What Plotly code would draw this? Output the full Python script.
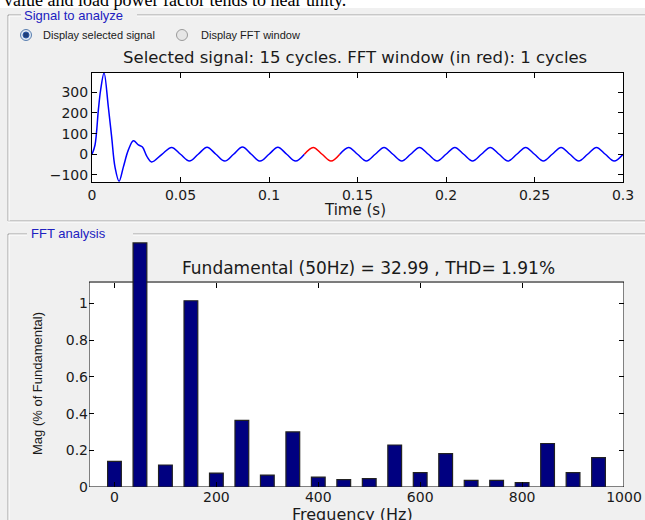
import plotly.graph_objects as go

W, H = 645, 520
def px(x): return x / W
def py(y): return 1 - y / H

# ---------------- data ----------------
# selected signal (time in s, value)
t_blue1 = [0, 0.0017, 0.0036, 0.0049, 0.0068, 0.0092, 0.0111, 0.013, 0.0153, 0.0177,
           0.0205, 0.0234, 0.0262, 0.0285, 0.031, 0.0337, 0.0395, 0.045, 0.050, 0.055,
           0.060, 0.065, 0.070, 0.075, 0.080, 0.085, 0.090, 0.095, 0.100, 0.105,
           0.110, 0.115, 0.120]
v_blue1 = [0, 45, 215, 312, 393, 231, 84, -62, -130, -62,
           20, 65, 45, 35, -10, -37, 0, 33, 0, -33,
           0, 34, 0, -33, 0, 35, 0, -33, 0, 34,
           0, -33, 0]
t_red = [0.120, 0.125, 0.130, 0.135, 0.140]
v_red = [0, 33, 0, -33, 0]
t_blue2 = [0.140, 0.145, 0.150, 0.155, 0.160, 0.165, 0.170, 0.175, 0.180, 0.185,
           0.190, 0.195, 0.200, 0.205, 0.210, 0.215, 0.220, 0.225, 0.230, 0.235,
           0.240, 0.245, 0.250, 0.255, 0.260, 0.265, 0.270, 0.275, 0.280, 0.285,
           0.290, 0.295, 0.300]
v_blue2 = [0, 33, 0, -33, 0, 33, 0, -33, 0, 33,
           0, -33, 0, 33, 0, -33, 0, 33, 0, -33,
           0, 33, 0, -33, 0, 33, 0, -33, 0, 33,
           0, -33, 0]

# FFT spectrum
freq = [0, 50, 100, 150, 200, 250, 300, 350, 400, 450,
        500, 550, 600, 650, 700, 750, 800, 850, 900, 950]
mag = [0.14, 1.33, 0.12, 1.015, 0.076, 0.363, 0.065, 0.30, 0.054, 0.040,
       0.046, 0.229, 0.078, 0.182, 0.036, 0.036, 0.024, 0.237, 0.078, 0.16]

time_ticks = [0, 0.05, 0.1, 0.15, 0.2, 0.25, 0.3]
time_ticktext = ['0', '0.05', '0.1', '0.15', '0.2', '0.25', '0.3']
sig_ticks = [-100, 0, 100, 200, 300]
freq_ticks = [0, 200, 400, 600, 800, 1000]
mag_ticks = [0, 0.2, 0.4, 0.6, 0.8, 1]
mag_ticktext = ['0', '0.2', '0.4', '0.6', '0.8', '1']

TICKFONT = dict(family='DejaVu Sans', size=14, color='#1a1a1a')
BG = '#f0f0f0'

fig = go.Figure()
fig.add_trace(go.Scatter(x=t_blue1, y=v_blue1, mode='lines', line=dict(color='#0000ff', width=1.5, shape='spline'),
                         xaxis='x', yaxis='y', showlegend=False, hoverinfo='skip'))
fig.add_trace(go.Scatter(x=t_red, y=v_red, mode='lines', line=dict(color='#ff0000', width=1.5, shape='spline'),
                         xaxis='x', yaxis='y', showlegend=False, hoverinfo='skip'))
fig.add_trace(go.Scatter(x=t_blue2, y=v_blue2, mode='lines', line=dict(color='#0000ff', width=1.5, shape='spline'),
                         xaxis='x', yaxis='y', showlegend=False, hoverinfo='skip'))
fig.add_trace(go.Bar(x=freq, y=mag, width=27, marker=dict(color='#000080', line=dict(color='#222222', width=1.2)),
                     xaxis='x2', yaxis='y2', showlegend=False, hoverinfo='skip'))
fig.add_trace(go.Scatter(x=[], y=[], xaxis='x3', yaxis='y2', showlegend=False, hoverinfo='skip'))

ax_common = dict(showgrid=False, zeroline=False, ticks='inside', ticklen=5, tickcolor='black',
                 tickfont=TICKFONT, fixedrange=True, automargin=False)

fig.update_layout(
    width=W, height=H, margin=dict(l=0, r=0, t=0, b=0, pad=0, autoexpand=False),
    paper_bgcolor=BG, plot_bgcolor='white',
    xaxis=dict(domain=[px(92), px(623)], range=[0, 0.3], tickvals=time_ticks, ticktext=time_ticktext,
               showline=True, linecolor='black', linewidth=1, mirror='ticks', anchor='y', **ax_common),
    yaxis=dict(domain=[py(182), py(73)], range=[-134, 393], tickvals=sig_ticks,
               showline=True, linecolor='black', linewidth=1, mirror='ticks', anchor='x', **ax_common),
    xaxis2=dict(domain=[px(89), px(624)], range=[-50, 1000], tickvals=freq_ticks,
                showline=False, anchor='y2', **ax_common),
    yaxis2=dict(domain=[py(487), py(240)], range=[0, 1.346], tickvals=mag_ticks, ticktext=mag_ticktext,
                showline=False, mirror='ticks', anchor='x2', **ax_common),
    xaxis3=dict(overlaying='x2', anchor='free', position=py(282), side='top', range=[-50, 1000],
                tickvals=freq_ticks, showticklabels=False, showline=False, **ax_common),
)

shapes = []
# white document strip at the very top
shapes.append(dict(type='rect', xref='paper', yref='paper', x0=0, x1=1, y0=py(8), y1=1,
                   fillcolor='white', line=dict(width=0), layer='below'))
# bottom axes: gray cover above the axes box, and the box itself
shapes.append(dict(type='rect', xref='x2', yref='y2', x0=-50, x1=1000, y0=1.117, y1=1.346,
                   fillcolor=BG, line=dict(width=0), layer='below'))
shapes.append(dict(type='rect', xref='x2', yref='y2', x0=-50, x1=1000, y0=0, y1=1.117,
                   fillcolor='rgba(0,0,0,0)', line=dict(color='black', width=1), layer='below'))

# panel frames (etched lines)
def hline(x0, x1, y, color):
    shapes.append(dict(type='line', xref='paper', yref='paper', x0=px(x0), x1=px(x1), y0=py(y), y1=py(y),
                       line=dict(color=color, width=1)))
def vline(x, y0, y1, color):
    shapes.append(dict(type='line', xref='paper', yref='paper', x0=px(x), x1=px(x), y0=py(y0), y1=py(y1),
                       line=dict(color=color, width=1)))

for off, col in [(0, '#a0a0a0'), (1, '#ffffff')]:
    hline(8 + off, 21, 15 + off, col)
    hline(137, 645, 15 + off, col)
    vline(8 + off, 15 + off, 221, col)
    hline(8, 645, 221 + off, col)
    hline(8 + off, 27, 234 + off, col)
    hline(133, 645, 234 + off, col)
    vline(8 + off, 234 + off, 520, col)

# radio buttons
shapes.append(dict(type='circle', xref='paper', yref='paper', x0=px(20.5), x1=px(31.5), y0=py(40.5), y1=py(29.5),
                   fillcolor='#dfe8f3', line=dict(color='#5a7fb0', width=1)))
shapes.append(dict(type='circle', xref='paper', yref='paper', x0=px(23), x1=px(29), y0=py(38), y1=py(32),
                   fillcolor='#1f3f7a', line=dict(color='#2a58a8', width=1)))
shapes.append(dict(type='circle', xref='paper', yref='paper', x0=px(176.5), x1=px(187.5), y0=py(40.5), y1=py(29.5),
                   fillcolor='#e6e6e6', line=dict(color='#9a9a9a', width=1)))
fig.update_layout(shapes=shapes)

ann = []
def text(s, x, y, size, family='Liberation Sans', color='#1a1a1a', xanchor='center', yanchor='middle', angle=0):
    ann.append(dict(text=s, x=px(x), y=py(y), xref='paper', yref='paper', showarrow=False,
                    xanchor=xanchor, yanchor=yanchor, textangle=angle,
                    font=dict(family=family, size=size, color=color)))

text('value and load power factor tends to near unity.', 2, 12, 18, family='Liberation Serif',
     color='black', xanchor='left', yanchor='bottom')
text('Signal to analyze', 22, 15, 13, color='#2020c0', xanchor='left')
text('FFT analysis', 29, 234, 13, color='#2020c0', xanchor='left')
text('Display selected signal', 41, 35, 11, xanchor='left')
text('Display FFT window', 199, 35, 11, xanchor='left')
text('Selected signal: 15 cycles. FFT window (in red): 1 cycles', 355, 57, 16.5, family='DejaVu Sans')
text('Time (s)', 355, 210, 15, family='DejaVu Sans')
text('Fundamental (50Hz) = 32.99 , THD= 1.91%', 368, 268, 17, family='DejaVu Sans')
text('Mag (% of Fundamental)', 37, 384, 13, angle=-90)
text('Frequency (Hz)', 353, 514, 16, family='DejaVu Sans')
fig.update_layout(annotations=ann)

fig.write_html('out.html', config={'displayModeBar': False},
               post_script="document.body.style.margin='0';document.body.style.padding='0';")
